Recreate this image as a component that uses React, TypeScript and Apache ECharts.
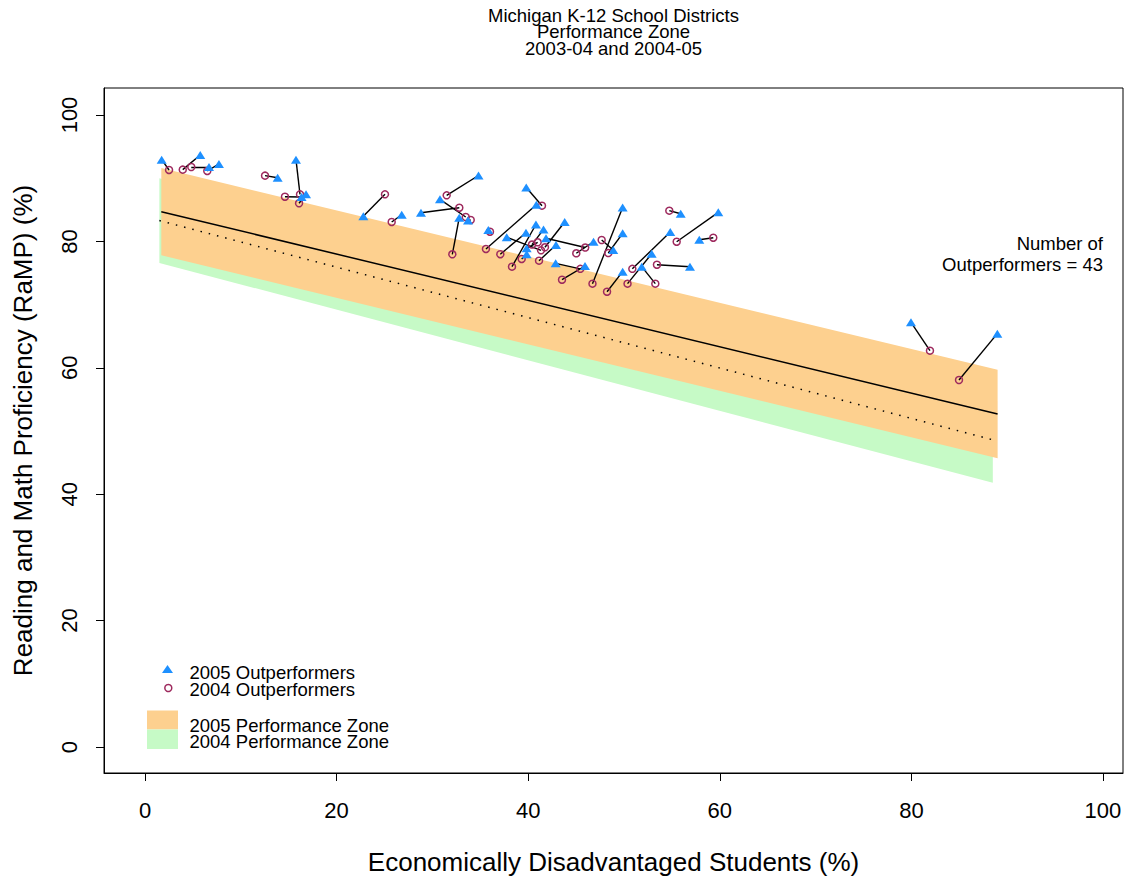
import React, { useEffect, useRef } from "react";
import * as echarts from "echarts";

// 2004 outperformers (circles) and 2005 outperformers (triangles), paired by district
const x2004 = [2.51, 3.94, 4.83, 6.5, 12.53, 16.18, 14.61, 16.08, 25.05, 25.75, 32.81, 31.49, 33.48, 34.0, 32.08, 41.44, 36.01, 35.59, 37.09, 41.34, 41.75, 45.95, 45.02, 41.13, 45.44, 43.53, 46.71, 38.31, 47.67, 48.36, 48.23, 50.87, 50.37, 53.27, 53.44, 54.73, 55.5, 59.32, 81.94, 84.97, 40.99, 39.32, 40.4];
const y2004 = [91.3, 91.35, 91.77, 91.14, 90.4, 87.45, 87.07, 86.03, 87.45, 83.07, 85.33, 87.29, 83.86, 83.39, 77.96, 85.65, 81.53, 78.8, 77.97, 78.59, 79.07, 79.03, 78.12, 76.95, 75.66, 73.94, 73.31, 76.0, 80.22, 78.16, 72.04, 75.66, 73.31, 73.31, 76.31, 84.86, 79.95, 80.58, 62.71, 58.07, 79.86, 77.22, 79.5];
const x2005 = [1.74, 5.77, 6.68, 7.72, 13.85, 15.76, 16.34, 16.81, 22.79, 26.8, 28.81, 34.81, 30.79, 33.72, 32.8, 39.8, 35.84, 40.85, 39.77, 37.76, 43.81, 41.86, 46.82, 42.9, 42.87, 45.93, 49.86, 40.81, 48.88, 49.86, 49.86, 54.83, 52.89, 51.85, 56.89, 55.92, 59.84, 57.86, 79.96, 88.97, 39.84, 39.84, 41.6];
const y2005 = [92.93, 93.67, 91.77, 92.25, 90.08, 92.93, 87.03, 87.45, 83.97, 84.22, 84.54, 90.43, 86.66, 83.31, 83.75, 88.53, 81.8, 85.81, 81.38, 80.65, 83.07, 80.49, 79.95, 79.43, 76.53, 76.11, 85.36, 82.67, 78.64, 81.28, 75.21, 81.49, 78.04, 76.0, 76.0, 84.38, 84.6, 80.27, 67.2, 65.4, 78.91, 77.96, 81.9];

// Performance zones (band ends) and fitted lines
const zone2005X = [1.7, 89.0];
const zone2005Upper = [91.6, 59.7];
const zone2005Lower = [77.8, 45.7];
const zone2004X = [1.5, 88.5];
const zone2004Upper = [90.0, 55.4];
const zone2004Lower = [76.6, 41.8];
const fit2005X = [1.7, 89.0];
const fit2005Y = [84.7, 52.7];
const fit2004X = [1.5, 88.5];
const fit2004Y = [83.3, 48.6];

const xTicks = [0, 20, 40, 60, 80, 100];
const yTicks = [0, 20, 40, 60, 80, 100];

const FONT = "'Liberation Sans', Arial, Helvetica, sans-serif";
const ORANGE = "#FDD08F";
const GREEN = "#C6FAC6";
const BLUE = "#1E90FF";
const MAROON = "#9E2A5E";

function zoneSeries(xs: number[], up: number[], lo: number[], color: string) {
  return {
    type: "custom",
    silent: true,
    z: 1,
    data: [[xs[0], up[0]]],
    renderItem: (_p: any, api: any) => ({
      type: "polygon",
      shape: {
        points: [
          api.coord([xs[0], up[0]]),
          api.coord([xs[1], up[1]]),
          api.coord([xs[1], lo[1]]),
          api.coord([xs[0], lo[0]]),
        ],
      },
      style: { fill: color },
    }),
  };
}

export default function App() {
  const ref = useRef<HTMLDivElement>(null);
  useEffect(() => {
    if (!ref.current) return;
    const chart = echarts.init(ref.current, undefined, { renderer: "svg" });
    const segData = x2004.map((x, i) => ({
      coords: [
        [x, y2004[i]],
        [x2005[i], y2005[i]],
      ],
    }));
    const t = (text: string, x: number, y: number, size: number, align = "left", lh?: number) => ({
      type: "text",
      x,
      y,
      style: {
        text,
        fill: "#000",
        font: `${size}px ${FONT}`,
        fontSize: size,
        fontFamily: FONT,
        lineHeight: lh,
        textAlign: align,
        textVerticalAlign: "middle",
      },
    });
    chart.setOption({
      animation: false,
      backgroundColor: "#fff",
      grid: {
        left: 104,
        top: 88,
        width: 1019,
        height: 685,
        outerBoundsMode: "none",
        containLabel: false,
        show: true,
        borderColor: "#000",
        borderWidth: 1,
        backgroundColor: "transparent",
      },
      xAxis: {
        type: "value",
        min: -4.28,
        max: 102.09,
        axisLine: { show: true, onZero: false, lineStyle: { color: "#000", width: 1 } },
        splitLine: { show: false },
        axisTick: { show: true, customValues: xTicks, length: 8, lineStyle: { color: "#000" } },
        axisLabel: { customValues: xTicks, margin: 26, fontSize: 22, color: "#000", fontFamily: FONT },
        name: "Economically Disadvantaged Students (%)",
        nameLocation: "middle",
        nameGap: 76,
        nameTextStyle: { fontSize: 26, color: "#000", fontFamily: FONT },
      },
      yAxis: {
        type: "value",
        min: -4.11,
        max: 104.27,
        axisLine: { show: true, onZero: false, lineStyle: { color: "#000", width: 1 } },
        splitLine: { show: false },
        axisTick: { show: true, customValues: yTicks, length: 8, lineStyle: { color: "#000" } },
        axisLabel: { customValues: yTicks, rotate: 90, margin: 24, fontSize: 22, color: "#000", fontFamily: FONT },
        name: "Reading and Math Proficiency (RaMP) (%)",
        nameLocation: "middle",
        nameGap: 68,
        nameTextStyle: { fontSize: 26, color: "#000", fontFamily: FONT },
      },
      graphic: [
        t("Michigan K-12 School Districts\nPerformance Zone\n2003-04 and 2004-05", 613.5, 31.5, 18.5, "center", 16.5),
        t("Number of\nOutperformers = 43", 1103, 253.5, 18.5, "right", 21),
        {
          type: "polygon",
          shape: { points: [[167.5, 665], [162, 673], [173, 673]] },
          style: { fill: BLUE },
        },
        {
          type: "circle",
          shape: { cx: 168.3, cy: 688, r: 3.5 },
          style: { fill: "none", stroke: MAROON, lineWidth: 1.5 },
        },
        { type: "rect", shape: { x: 147, y: 710.5, width: 31, height: 19 }, style: { fill: ORANGE } },
        { type: "rect", shape: { x: 147, y: 729.5, width: 31, height: 19.5 }, style: { fill: GREEN } },
        t("2005 Outperformers\n2004 Outperformers", 189.5, 681.2, 18.5, "left", 17.5),
        t("2005 Performance Zone\n2004 Performance Zone", 189.5, 733, 18.5, "left", 16),
      ],
      series: [
        zoneSeries(zone2004X, zone2004Upper, zone2004Lower, GREEN),
        zoneSeries(zone2005X, zone2005Upper, zone2005Lower, ORANGE),
        {
          type: "line",
          z: 2,
          silent: true,
          symbol: "none",
          data: fit2004X.map((x, i) => [x, fit2004Y[i]]),
          lineStyle: { color: "#000", width: 1.5, type: [1.5, 7] },
        },
        {
          type: "line",
          z: 2,
          silent: true,
          symbol: "none",
          data: fit2005X.map((x, i) => [x, fit2005Y[i]]),
          lineStyle: { color: "#000", width: 1.5 },
        },
        {
          type: "lines",
          coordinateSystem: "cartesian2d",
          z: 3,
          silent: true,
          data: segData,
          lineStyle: { color: "#000", width: 1.4, opacity: 1, curveness: 0 },
        },
        {
          type: "scatter",
          z: 4,
          name: "2004 Outperformers",
          symbol: "circle",
          symbolSize: 7,
          data: x2004.map((x, i) => [x, y2004[i]]),
          itemStyle: { color: "rgba(0,0,0,0)", borderColor: MAROON, borderWidth: 1.5, opacity: 1 },
        },
        {
          type: "scatter",
          z: 5,
          name: "2005 Outperformers",
          symbol: "triangle",
          symbolSize: [10, 8],
          data: x2005.map((x, i) => [x, y2005[i]]),
          itemStyle: { color: BLUE, opacity: 1 },
        },
      ],
    });
    return () => chart.dispose();
  }, []);
  return (
    <div
      ref={ref}
      style={{ position: "fixed", left: 0, top: 0, width: 1135, height: 877, background: "#fff" }}
    />
  );
}
